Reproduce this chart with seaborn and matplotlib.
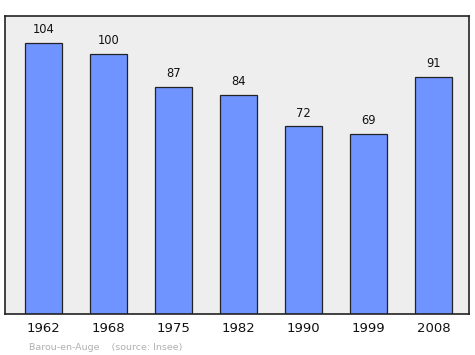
import matplotlib
matplotlib.use("Agg")
import matplotlib.pyplot as plt
import seaborn as sns
import pandas as pd

years = ["1962", "1968", "1975", "1982", "1990", "1999", "2008"]
population = [104, 100, 87, 84, 72, 69, 91]
footer = "Barou-en-Auge    (source: Insee)"

df = pd.DataFrame({"year": years, "pop": population})

sns.set_style("white")
plt.rcParams['font.family'] = ['DejaVu Sans']

fig = plt.figure(figsize=(4.75, 3.55), dpi=100)
ax = fig.add_axes([5/475, 41/355, 464/475, 298/355])
ax.set_facecolor("#eeeeee")

sns.barplot(data=df, x="year", y="pop", color="#7094ff", saturation=1,
            width=0.57, edgecolor="#222222", linewidth=0.9, ax=ax)

for i, v in enumerate(population):
    ax.annotate(str(v), (i, v), xytext=(0, 5), textcoords="offset points",
                ha="center", va="bottom", fontsize=8.3, color="#111111")

ax.set_xlim(-0.592, 6.546)
ax.set_ylim(0, 114.4)
ax.set_yticks([])
ax.set_xlabel("")
ax.set_ylabel("")
ax.tick_params(axis="x", length=0, labelsize=9.5, pad=6, colors="#111111")
for s in ax.spines.values():
    s.set_color("#222222")
    s.set_linewidth(1.2)

fig.text(29/475, 1 - 347/355, footer, fontsize=6.8, color="#b0b0b0",
         ha="left", va="center")

fig.savefig("out.png", dpi=100)
